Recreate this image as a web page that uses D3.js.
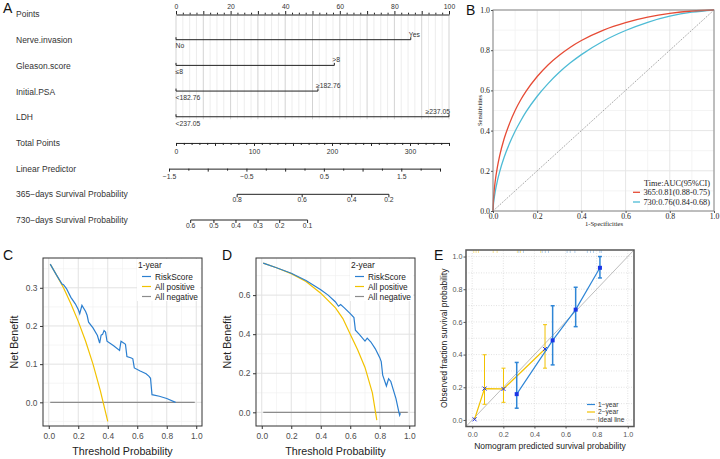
<!DOCTYPE html>
<html>
<head>
<meta charset="utf-8">
<script src="https://cdn.jsdelivr.net/npm/d3@7"></script>
<style>
  body { margin: 0; background: #fff; }
  svg { display: block; font-family: "Liberation Sans", Arial, sans-serif; }
</style>
</head>
<body>
<svg id="fig" width="720" height="459"></svg>
<script>
// ---------------- data ----------------
// A: nomogram
const nomoNames = ["Points", "Nerve.invasion", "Gleason.score", "Initial.PSA", "LDH", "Total Points",
    "Linear Predictor", "365\u2212days Survival Probability", "730\u2212days Survival Probability"];
const predLow = ["No", "\u22648", "<182.76", "<237.05"];
const predHigh = ["Yes", ">8", "\u2265182.76", "\u2265237.05"];
const predPoints = [86, 58, 52, 100];
const pointsLabels = [0, 20, 40, 60, 80, 100];
const totalLabels = [0, 100, 200, 300];
const lpLabels = [-1.5, -0.5, 0.5, 1.5];
const surv365 = [0.8, 0.6, 0.4, 0.2];
const surv365LP = [-0.62, 0.22, 0.86, 1.34];     // where each prob sits on the linear predictor
const surv730 = [0.6, 0.5, 0.4, 0.3, 0.2, 0.1];
const surv730LP = [-1.22, -0.92, -0.635, -0.35, -0.07, 0.29];

// B: time ROC
const rocFpr = [0, 0.002, 0.005, 0.01, 0.02, 0.03, 0.05, 0.075, 0.1, 0.125, 0.15, 0.2, 0.25, 0.3, 0.35, 0.4,
    0.5, 0.6, 0.7, 0.8, 0.9, 1];
const roc365 = [0, 0.055, 0.098, 0.148, 0.219, 0.274, 0.358, 0.436, 0.5, 0.552, 0.596, 0.669, 0.728, 0.775, 0.815, 0.848,
    0.9, 0.937, 0.964, 0.983, 0.995, 1];
const roc730 = [0, 0.032, 0.06, 0.096, 0.151, 0.195, 0.266, 0.337, 0.397, 0.448, 0.494, 0.571, 0.635, 0.69, 0.737, 0.778,
    0.846, 0.898, 0.939, 0.969, 0.989, 1];
const rocLegend = ["365:0.81(0.88-0.75)", "730:0.76(0.84-0.68)"];

// C: decision curve, 1-year
const c1T = [0.01, 0.05, 0.09, 0.10, 0.12, 0.15, 0.18, 0.20, 0.21, 0.225, 0.25, 0.26, 0.27, 0.30, 0.33, 0.345, 0.355, 0.365,
    0.375, 0.385, 0.395, 0.44, 0.48, 0.49, 0.51, 0.52, 0.53, 0.56, 0.57, 0.58, 0.62, 0.66, 0.68, 0.69, 0.70, 0.75, 0.80, 0.86];
const c1Risk = [0.362, 0.335, 0.31, 0.308, 0.298, 0.275, 0.258, 0.243, 0.232, 0.254, 0.238, 0.228, 0.21, 0.195, 0.175, 0.155,
    0.176, 0.178, 0.188, 0.184, 0.16, 0.148, 0.136, 0.16, 0.155, 0.152, 0.12, 0.116, 0.114, 0.09, 0.082, 0.075, 0.068, 0.063,
    0.02, 0.016, 0.01, 0.0];
const c1AllT = [0.01, 0.05, 0.1, 0.15, 0.2, 0.25, 0.3, 0.35, 0.4];
const c1All = [0.362, 0.335, 0.30, 0.258, 0.212, 0.16, 0.10, 0.03, -0.05];

// D: decision curve, 2-year
const c2T = [0.01, 0.1, 0.2, 0.3, 0.4, 0.45, 0.5, 0.52, 0.535, 0.56, 0.6, 0.625, 0.635, 0.66, 0.70, 0.715, 0.74, 0.77, 0.80,
    0.81, 0.82, 0.845, 0.86, 0.875, 0.89, 0.91, 0.93, 0.935, 0.94];
const c2Risk = [0.764, 0.74, 0.712, 0.675, 0.628, 0.60, 0.565, 0.543, 0.552, 0.535, 0.505, 0.485, 0.42, 0.40, 0.365, 0.38,
    0.36, 0.325, 0.28, 0.26, 0.19, 0.135, 0.172, 0.158, 0.12, 0.07, 0.0, -0.015, -0.005];
const c2AllT = [0.01, 0.1, 0.2, 0.3, 0.4, 0.5, 0.55, 0.6, 0.65, 0.7, 0.75, 0.78];
const c2All = [0.764, 0.74, 0.71, 0.67, 0.61, 0.535, 0.48, 0.40, 0.32, 0.23, 0.10, -0.04];
const noneT = [0.01, 0.99];
const noneNB = [0, 0];
const dcaLegend = ["RiskScore", "All positive", "All negative"];

// E: calibration
const cal1Pred = [0.286, 0.517, 0.665, 0.821];
const cal1Obs = [0.158, 0.487, 0.675, 0.931];
const cal1Lo = [0.072, 0.337, 0.571, 0.869];
const cal1Hi = [0.352, 0.699, 0.812, 1.0];
const cal2Pred = [0.015, 0.079, 0.201, 0.468];
const cal2Obs = [0.004, 0.192, 0.19, 0.434];
const cal2Lo = [0.004, 0.096, 0.108, 0.317];
const cal2Hi = [0.004, 0.399, 0.317, 0.583];
const rug1 = [0.3, 0.33, 0.45, 0.47, 0.49, 0.61, 0.63, 0.66, 0.74, 0.76, 0.78, 0.82, 0.83];
const rug2 = [0.01, 0.025, 0.04, 0.135, 0.16, 0.29, 0.31, 0.44];
const calLegend = ["1\u2212year", "2\u2212year", "Ideal line"];

// ---------------- drawing ----------------
const svg = d3.select("#fig");
const SANS = '"Liberation Sans", Arial, sans-serif';
const SERIF = '"Liberation Serif", "Times New Roman", serif';
const ink = "#222";
const blue = "#2b7fd0", yellow = "#f2c200", grey = "#8c8c8c";

function panelLetter(t, x, y) {
    svg.append("text").attr("x", x).attr("y", y).attr("font-size", 14).attr("fill", "#111").text(t);
}

//==== A: nomogram ====
const A = svg.append("g");
const rowY = d3.scaleLinear().domain([0, 8]).range([14.5, 220]);
const ptsX = d3.scaleLinear().domain([0, 100]).range([176, 449]);
const totX = d3.scaleLinear().domain([0, 350]).range([176, 449]);
const lpX = d3.scaleLinear().domain([-1.5, 2]).range([169, 440]);
const minus = s => String(s).replace("-", "\u2212");
const tickFs = 6.8;

A.selectAll("text.row").data(nomoNames).join("text")
    .attr("class", "row")
    .attr("x", 16).attr("y", (d, i) => rowY(i)).attr("dy", "0.35em")
    .attr("font-size", 8.5).attr("fill", "#333").text(d => d);

// vertical reference lines
A.append("g").selectAll("line").data(d3.range(0, 100.1, 2.5)).join("line")
    .attr("x1", d => ptsX(d)).attr("x2", d => ptsX(d))
    .attr("y1", rowY(0) + 1).attr("y2", rowY(4) + 2)
    .attr("stroke", d => d % 10 === 0 ? "#c8c8c8" : "#e9e9e9").attr("stroke-width", 0.8);

function styleNomo(g) {
    g.attr("font-family", SANS).attr("font-size", tickFs);
    g.select(".domain").attr("stroke", ink).attr("stroke-width", 1);
    g.selectAll(".tick line").attr("stroke", ink);
    g.selectAll(".tick text").attr("fill", "#333");
}

// Points
const gPts = A.append("g").attr("transform", `translate(0,${rowY(0)})`)
    .call(d3.axisTop(ptsX).tickValues(d3.range(0, 100.1, 2.5)).tickSizeOuter(0).tickPadding(0)
        .tickFormat(d => pointsLabels.includes(d) ? d : ""));
gPts.selectAll(".tick line").attr("y2", d => d % 10 === 0 ? -3.5 : -1.8);
styleNomo(gPts);

// predictors
predPoints.forEach((p, i) => {
    const y = rowY(i + 1) - 0.5;
    const g = A.append("g");
    g.append("line").attr("x1", ptsX(0)).attr("x2", ptsX(p)).attr("y1", y).attr("y2", y)
        .attr("stroke", ink).attr("stroke-width", 1);
    g.append("line").attr("x1", ptsX(0)).attr("x2", ptsX(0)).attr("y1", y).attr("y2", y - 2.5).attr("stroke", ink);
    g.append("line").attr("x1", ptsX(p)).attr("x2", ptsX(p)).attr("y1", y).attr("y2", y - 2.5).attr("stroke", ink);
    g.append("text").attr("x", ptsX(0) - 0.5).attr("y", y + 8.8).attr("font-size", tickFs).attr("fill", "#333")
        .text(predLow[i]);
    const right = p > 95;
    g.append("text").attr("x", right ? ptsX(p) + 1 : ptsX(p) - 2).attr("y", y - 3)
        .attr("text-anchor", right ? "end" : "start")
        .attr("font-size", tickFs).attr("fill", "#333").text(predHigh[i]);
});

// Total points
const gTot = A.append("g").attr("transform", `translate(0,${rowY(5)})`)
    .call(d3.axisBottom(totX).tickValues(d3.range(0, 350.1, 10)).tickSizeOuter(0).tickPadding(0)
        .tickFormat(d => totalLabels.includes(d) ? d : ""));
gTot.selectAll(".tick line").attr("y2", d => d % 50 === 0 ? 3 : 2);
styleNomo(gTot);

// Linear predictor
const gLp = A.append("g").attr("transform", `translate(0,${rowY(6)})`)
    .call(d3.axisBottom(lpX).tickValues(d3.range(-1.5, 2.01, 0.25)).tickSizeOuter(0).tickPadding(0)
        .tickFormat(d => lpLabels.some(v => Math.abs(v - d) < 1e-9) ? minus(d3.format(".1f")(d)) : ""));
gLp.selectAll(".tick line").attr("y2", d => Math.abs(d * 2 - Math.round(d * 2)) < 1e-9 ? 3 : 2);
styleNomo(gLp);

function survAxis(vals, lps, row) {
    const xs = lps.map(lpX);
    const g = A.append("g").attr("transform", `translate(0,${rowY(row)})`);
    g.append("line").attr("x1", d3.min(xs)).attr("x2", d3.max(xs)).attr("stroke", ink);
    g.selectAll("line.t").data(vals).join("line").attr("class", "t")
        .attr("x1", (d, i) => xs[i]).attr("x2", (d, i) => xs[i]).attr("y2", 3).attr("stroke", ink);
    g.selectAll("text").data(vals).join("text")
        .attr("x", (d, i) => xs[i]).attr("y", 3).attr("dy", "0.71em").attr("text-anchor", "middle")
        .attr("font-size", tickFs).attr("fill", "#333").text(d => d);
}
survAxis(surv365, surv365LP, 7);
survAxis(surv730, surv730LP, 8);
panelLetter("A", 3, 13);

//==== B: ROC ====
const B = svg.append("g").attr("font-family", SERIF);
const bx = d3.scaleLinear().domain([0, 1]).range([493, 714]);
const by = d3.scaleLinear().domain([0, 1]).range([211, 10]);
const bMajor = [0, 0.2, 0.4, 0.6, 0.8, 1];
const bMinor = [0.1, 0.3, 0.5, 0.7, 0.9];
B.append("g").selectAll("line").data(bMinor).join("line")
    .attr("x1", d => bx(d)).attr("x2", d => bx(d)).attr("y1", by(0)).attr("y2", by(1)).attr("stroke", "#f4f4f4");
B.append("g").selectAll("line").data(bMinor).join("line")
    .attr("y1", d => by(d)).attr("y2", d => by(d)).attr("x1", bx(0)).attr("x2", bx(1)).attr("stroke", "#f4f4f4");
B.append("g").selectAll("line").data(bMajor).join("line")
    .attr("x1", d => bx(d)).attr("x2", d => bx(d)).attr("y1", by(0)).attr("y2", by(1)).attr("stroke", "#e6e6e6");
B.append("g").selectAll("line").data(bMajor).join("line")
    .attr("y1", d => by(d)).attr("y2", d => by(d)).attr("x1", bx(0)).attr("x2", bx(1)).attr("stroke", "#e6e6e6");
B.append("line").attr("x1", bx(0)).attr("y1", by(0)).attr("x2", bx(1)).attr("y2", by(1))
    .attr("stroke", "#555").attr("stroke-width", 0.6).attr("stroke-dasharray", "1.2,1.2");

const rocLine = vals => d3.line().x((d, i) => bx(rocFpr[i])).y(d => by(d)).curve(d3.curveMonotoneX)(vals);
B.append("path").attr("d", rocLine(roc730)).attr("fill", "none").attr("stroke", "#4dbbd5").attr("stroke-width", 1.3);
B.append("path").attr("d", rocLine(roc365)).attr("fill", "none").attr("stroke", "#e64b35").attr("stroke-width", 1.3);
B.append("rect").attr("x", bx(0)).attr("y", by(1)).attr("width", bx(1) - bx(0)).attr("height", by(0) - by(1))
    .attr("fill", "none").attr("stroke", "#888").attr("stroke-width", 1);

const bAxL = B.append("g").attr("transform", `translate(${bx(0)},0)`)
    .call(d3.axisLeft(by).tickValues(bMajor).tickSize(2).tickPadding(1).tickFormat(d3.format(".1f")));
const bAxB = B.append("g").attr("transform", `translate(0,${by(0)})`)
    .call(d3.axisBottom(bx).tickValues(bMajor).tickSize(2).tickPadding(0).tickFormat(d3.format(".1f")));
[bAxL, bAxB].forEach(g => {
    g.attr("font-family", SERIF).attr("font-size", 7.8);
    g.select(".domain").remove();
    g.selectAll(".tick line").attr("stroke", "#555");
    g.selectAll(".tick text").attr("fill", "#222");
});
B.append("text").attr("transform", `translate(480,${(by(0) + by(1)) / 2}) rotate(-90)`)
    .attr("text-anchor", "middle").attr("dy", "0.35em").attr("font-size", 6.3).attr("fill", "#222").text("Sensitivities");
B.append("text").attr("x", 604).attr("y", 225.5).attr("text-anchor", "middle")
    .attr("font-size", 6.6).attr("fill", "#222").text("1-Specificities");
B.append("text").attr("x", 710).attr("y", 185.5).attr("text-anchor", "end").attr("font-size", 8.3)
    .attr("fill", "#222").text("Time:AUC(95%CI)");
[["#e64b35", 192.3], ["#4dbbd5", 202]].forEach(([c, y], i) => {
    B.append("line").attr("x1", 633).attr("x2", 640).attr("y1", y).attr("y2", y).attr("stroke", c).attr("stroke-width", 1.3);
    B.append("text").attr("x", 710).attr("y", y + 2.9).attr("text-anchor", "end").attr("font-size", 8.3)
        .attr("fill", "#222").text(rocLegend[i]);
});
panelLetter("B", 466, 15);

//==== C & D: decision curves ====
function dcaPanel(cfg) {
    const left = cfg.left, right = cfg.left + 159, top = 258, bottom = 426;
    const x = d3.scaleLinear().domain([-0.039, 1.039]).range([left, right]);
    const y = d3.scaleLinear().domain(cfg.yDomain).range([bottom, top]);
    const g = svg.append("g");
    const xMajor = [0, 0.2, 0.4, 0.6, 0.8, 1], xMinor = [0.1, 0.3, 0.5, 0.7, 0.9];
    g.append("g").selectAll("line").data(xMinor).join("line")
        .attr("x1", d => x(d)).attr("x2", d => x(d)).attr("y1", top).attr("y2", bottom)
        .attr("stroke", "#f0f0f0").attr("stroke-width", 0.6);
    g.append("g").selectAll("line").data(cfg.yMinor).join("line")
        .attr("y1", d => y(d)).attr("y2", d => y(d)).attr("x1", left).attr("x2", right)
        .attr("stroke", "#f0f0f0").attr("stroke-width", 0.6);
    g.append("g").selectAll("line").data(xMajor).join("line")
        .attr("x1", d => x(d)).attr("x2", d => x(d)).attr("y1", top).attr("y2", bottom)
        .attr("stroke", "#e2e2e2").attr("stroke-width", 1);
    g.append("g").selectAll("line").data(cfg.yTicks).join("line")
        .attr("y1", d => y(d)).attr("y2", d => y(d)).attr("x1", left).attr("x2", right)
        .attr("stroke", "#e2e2e2").attr("stroke-width", 1);

    const line = (xs, ys) => d3.line().x((d, i) => x(xs[i])).y(d => y(d))(ys);
    g.append("path").attr("d", line(noneT, noneNB)).attr("fill", "none").attr("stroke", grey).attr("stroke-width", 1.1);
    g.append("path").attr("d", line(cfg.allT, cfg.all)).attr("fill", "none").attr("stroke", yellow).attr("stroke-width", 1.2);
    g.append("path").attr("d", line(cfg.riskT, cfg.risk)).attr("fill", "none").attr("stroke", blue).attr("stroke-width", 1.2);

    g.append("rect").attr("x", left).attr("y", top).attr("width", right - left).attr("height", bottom - top)
        .attr("fill", "none").attr("stroke", "#333").attr("stroke-width", 1);

    const axL = g.append("g").attr("transform", `translate(${left},0)`)
        .call(d3.axisLeft(y).tickValues(cfg.yTicks).tickSize(3).tickPadding(2.5).tickFormat(d3.format(".1f")));
    const axB = g.append("g").attr("transform", `translate(0,${bottom})`)
        .call(d3.axisBottom(x).tickValues(xMajor).tickSize(3).tickPadding(4.5).tickFormat(d3.format(".1f")));
    [axL, axB].forEach(a => {
        a.attr("font-family", SANS).attr("font-size", 8.4);
        a.select(".domain").remove();
        a.selectAll(".tick line").attr("stroke", "#333");
        a.selectAll(".tick text").attr("fill", "#4d4d4d");
    });
    g.append("text").attr("x", (left + right) / 2).attr("y", 455).attr("text-anchor", "middle")
        .attr("font-size", 10.7).attr("fill", "#222").text("Threshold Probability");
    g.append("text").attr("transform", `translate(${left - 29},${(top + bottom) / 2}) rotate(-90)`)
        .attr("text-anchor", "middle").attr("dy", "0.35em").attr("font-size", 10.7).attr("fill", "#222").text("Net Benefit");

    // legend
    const lg = g.append("g").attr("transform", `translate(${left + 95},0)`);
    lg.append("rect").attr("x", -1).attr("y", top + 1).attr("width", right - left - 96).attr("height", 42).attr("fill", "#fff");
    lg.append("text").attr("x", 0).attr("y", 268).attr("font-size", 8.4).attr("fill", "#222").text(cfg.title);
    [blue, yellow, grey].forEach((c, i) => {
        const yy = 276.5 + i * 10;
        lg.append("line").attr("x1", 4).attr("x2", 13).attr("y1", yy).attr("y2", yy).attr("stroke", c).attr("stroke-width", 1.2);
        lg.append("text").attr("x", 17).attr("y", yy + 3).attr("font-size", 8.3).attr("fill", "#222").text(dcaLegend[i]);
    });
}
dcaPanel({ left: 43, yDomain: [-0.062, 0.378], yTicks: [0, 0.1, 0.2, 0.3], yMinor: [-0.05, 0.05, 0.15, 0.25, 0.35],
    riskT: c1T, risk: c1Risk, allT: c1AllT, all: c1All, title: "1-year" });
dcaPanel({ left: 256, yDomain: [-0.07, 0.79], yTicks: [0, 0.2, 0.4, 0.6], yMinor: [0.1, 0.3, 0.5, 0.7],
    riskT: c2T, risk: c2Risk, allT: c2AllT, all: c2All, title: "2-year" });
panelLetter("C", 3, 260);
panelLetter("D", 222, 260);

//==== E: calibration ====
const E = svg.append("g");
const ex = d3.scaleLinear().domain([-0.04, 1.04]).range([466, 634]);
const ey = d3.scaleLinear().domain([-0.04, 1.04]).range([426.5, 250]);
const eTicks = [0, 0.2, 0.4, 0.6, 0.8, 1];
E.append("g").selectAll("line").data(d3.range(0, 1.01, 0.1)).join("line")
    .attr("y1", d => ey(d)).attr("y2", d => ey(d)).attr("x1", ex.range()[0]).attr("x2", ex.range()[1])
    .attr("stroke", "#d6d6d6").attr("stroke-width", 0.7).attr("stroke-dasharray", "1,1.5");
E.append("g").selectAll("line").data(eTicks).join("line")
    .attr("x1", d => ex(d)).attr("x2", d => ex(d)).attr("y1", ey.range()[0]).attr("y2", ey.range()[1])
    .attr("stroke", "#d6d6d6").attr("stroke-width", 0.7).attr("stroke-dasharray", "1,1.5");
// ideal line
E.append("line").attr("x1", ex(-0.04)).attr("y1", ey(-0.04)).attr("x2", ex(1.04)).attr("y2", ey(1.04))
    .attr("stroke", "#bdbdbd").attr("stroke-width", 1);
// rugs
E.append("g").selectAll("line").data(rug2).join("line")
    .attr("x1", d => ex(d)).attr("x2", d => ex(d)).attr("y1", ey(1.04)).attr("y2", ey(1.04) + 3)
    .attr("stroke", yellow).attr("stroke-width", 0.7).attr("opacity", 0.6);
E.append("g").selectAll("line").data(rug1).join("line")
    .attr("x1", d => ex(d)).attr("x2", d => ex(d)).attr("y1", ey(1.04)).attr("y2", ey(1.04) + 3)
    .attr("stroke", blue).attr("stroke-width", 0.7).attr("opacity", 0.5);

function calSeries(pred, obs, lo, hi, color, w, marker) {
    const g = E.append("g");
    g.append("path").attr("d", d3.line().x((d, i) => ex(pred[i])).y(d => ey(d))(obs))
        .attr("fill", "none").attr("stroke", color).attr("stroke-width", 1.2);
    pred.forEach((p, i) => {
        if (hi[i] - lo[i] < 1e-6) return;
        g.append("line").attr("x1", ex(p)).attr("x2", ex(p)).attr("y1", ey(lo[i])).attr("y2", ey(hi[i]))
            .attr("stroke", color).attr("stroke-width", w);
        [lo[i], hi[i]].forEach(v => g.append("line").attr("x1", ex(p) - 2).attr("x2", ex(p) + 2)
            .attr("y1", ey(v)).attr("y2", ey(v)).attr("stroke", color).attr("stroke-width", w));
    });
    pred.forEach((p, i) => {
        const cx = ex(p), cy = ey(obs[i]);
        if (marker === "square") {
            g.append("rect").attr("x", cx - 2).attr("y", cy - 2).attr("width", 4).attr("height", 4).attr("fill", "#1a35e6");
        } else {
            g.append("path").attr("d", `M${cx - 2},${cy - 2}L${cx + 2},${cy + 2}M${cx - 2},${cy + 2}L${cx + 2},${cy - 2}`)
                .attr("stroke", "#2233dd").attr("stroke-width", 1);
        }
    });
}
calSeries(cal2Pred, cal2Obs, cal2Lo, cal2Hi, yellow, 1, "x");
calSeries(cal1Pred, cal1Obs, cal1Lo, cal1Hi, "#2f86d6", 1.5, "square");

E.append("rect").attr("x", ex(-0.04)).attr("y", ey(1.04)).attr("width", ex(1.04) - ex(-0.04))
    .attr("height", ey(-0.04) - ey(1.04)).attr("fill", "none").attr("stroke", "#555").attr("stroke-width", 1.5);

const eAxL = E.append("g").attr("transform", `translate(${ex(-0.04)},0)`)
    .call(d3.axisLeft(ey).tickValues(eTicks).tickSize(2.5).tickPadding(1).tickFormat(d3.format(".1f")));
const eAxB = E.append("g").attr("transform", `translate(0,${ey(-0.04)})`)
    .call(d3.axisBottom(ex).tickValues(eTicks).tickSize(2).tickPadding(3).tickFormat(d3.format(".1f")));
[eAxL, eAxB].forEach(a => {
    a.attr("font-family", SANS).attr("font-size", 7.2);
    a.select(".domain").remove();
    a.selectAll(".tick line").attr("stroke", "#555");
    a.selectAll(".tick text").attr("fill", "#555");
});
E.append("text").attr("x", 550).attr("y", 448.5).attr("text-anchor", "middle").attr("font-size", 8.5)
    .attr("fill", "#222").text("Nomogram predicted survival probability");
E.append("text").attr("transform", `translate(444.5,${(ey(0) + ey(1)) / 2}) rotate(-90)`)
    .attr("text-anchor", "middle").attr("dy", "0.35em").attr("font-size", 8.5).attr("fill", "#222")
    .text("Observed fraction survival probability");
[["#2f86d6", 404.5], [yellow, 412], ["#bdbdbd", 419.5]].forEach(([c, y], i) => {
    E.append("line").attr("x1", 587).attr("x2", 595).attr("y1", y).attr("y2", y).attr("stroke", c).attr("stroke-width", 1.2);
    E.append("text").attr("x", 598).attr("y", y + 2.4).attr("font-size", 6.6).attr("fill", "#333").text(calLegend[i]);
});
panelLetter("E", 434, 260);
</script>
</body>
</html>
